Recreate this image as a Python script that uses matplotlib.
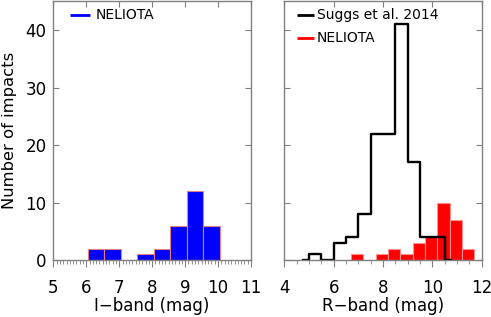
import matplotlib
matplotlib.use("Agg")
import matplotlib.pyplot as plt
import numpy as np
from matplotlib.ticker import MultipleLocator

# I-band NELIOTA histogram (bin edges, width 0.5)
i_edges = [6.05, 6.55, 7.05, 7.55, 8.05, 8.55, 9.05, 9.55, 10.05]
i_counts = [2, 2, 0, 1, 2, 6, 12, 6]

# R-band NELIOTA histogram
r_edges = [6.7, 7.2, 7.7, 8.2, 8.7, 9.2, 9.7, 10.2, 10.7, 11.2, 11.7]
r_counts = [1, 0, 1, 2, 1, 3, 4, 10, 7, 2]

# Suggs et al. 2014 (bin centres, counts) drawn as centred steps
suggs_x = [4.75, 5.25, 5.75, 6.25, 6.75, 7.25, 7.75, 8.25, 8.75, 9.25, 9.75, 10.25, 10.75]
suggs_y = [0, 1, 0, 3, 4, 8, 22, 22, 41, 17, 4, 4, 0]

plt.rcParams['font.family'] = ['DejaVu Sans']
fig = plt.figure(figsize=(4.91, 3.17), dpi=100)
ax1 = fig.add_axes([0.1086, 0.1798, 0.4026, 0.8155])
ax2 = fig.add_axes([0.579, 0.1798, 0.402, 0.8155])

spine_col = '#808080'
TFS = 12

def style(ax, xlim, xminor, xticks):
    ax.set_xlim(*xlim)
    ax.set_ylim(0, 45)
    ax.set_xticks(xticks)
    ax.xaxis.set_minor_locator(MultipleLocator(xminor))
    ax.set_yticks([0, 10, 20, 30, 40])
    for s in ax.spines.values():
        s.set_color(spine_col)
        s.set_linewidth(1.0)
    ax.tick_params(axis='x', which='major', direction='out', length=5, width=0.8,
                   color=spine_col, labelsize=TFS, pad=9, top=False)
    ax.tick_params(axis='x', which='minor', direction='out', length=3, width=0.6,
                   color=spine_col, top=False)
    ax.tick_params(axis='y', which='major', direction='in', length=4, width=0.8,
                   color=spine_col, labelsize=TFS, right=True, left=True, pad=5)
    sec = ax.secondary_xaxis('top')
    sec.set_xticks(xticks)
    sec.tick_params(direction='in', length=4, width=0.8, color=spine_col, labeltop=False)
    sec.spines['top'].set_visible(False)

def legend_entry(ax, x0, x1, xt, y, color, label):
    ax.plot([x0, x1], [y, y], color=color, lw=2, transform=ax.transAxes,
            clip_on=False, solid_capstyle='butt')
    ax.text(xt, y, label, transform=ax.transAxes, ha='left', va='center',
            fontsize=10)

# Left panel
style(ax1, (5, 11), 0.1, [5, 6, 7, 8, 9, 10, 11])
ax1.bar(i_edges[:-1], i_counts, width=np.diff(i_edges), align='edge',
        color='#0000ff', edgecolor='#e08080', linewidth=0.8)
ax1.set_xlabel('I\u2212band (mag)', fontsize=TFS, labelpad=0)
ax1.set_ylabel('Number of impacts', fontsize=11.8)
ax1.yaxis.set_label_coords(-0.183, 0.5)
legend_entry(ax1, 0.085, 0.186, 0.215, 0.948, '#0000ff', 'NELIOTA')

# Right panel
style(ax2, (4, 12), 0.5, [4, 6, 8, 10, 12])
ax2.set_yticklabels([])
ax2.bar(r_edges[:-1], r_counts, width=np.diff(r_edges), align='edge',
        color='#ff0000', edgecolor='#ff9090', linewidth=0.8)
ax2.step(suggs_x, suggs_y, where='mid', color='black', lw=1.7)
ax2.set_xlabel('R\u2212band (mag)', fontsize=TFS, labelpad=0)
legend_entry(ax2, 0.063, 0.150, 0.164, 0.948, 'black', 'Suggs et al. 2014')
legend_entry(ax2, 0.063, 0.150, 0.164, 0.860, '#ff0000', 'NELIOTA')

fig.savefig('out.png', dpi=100)
